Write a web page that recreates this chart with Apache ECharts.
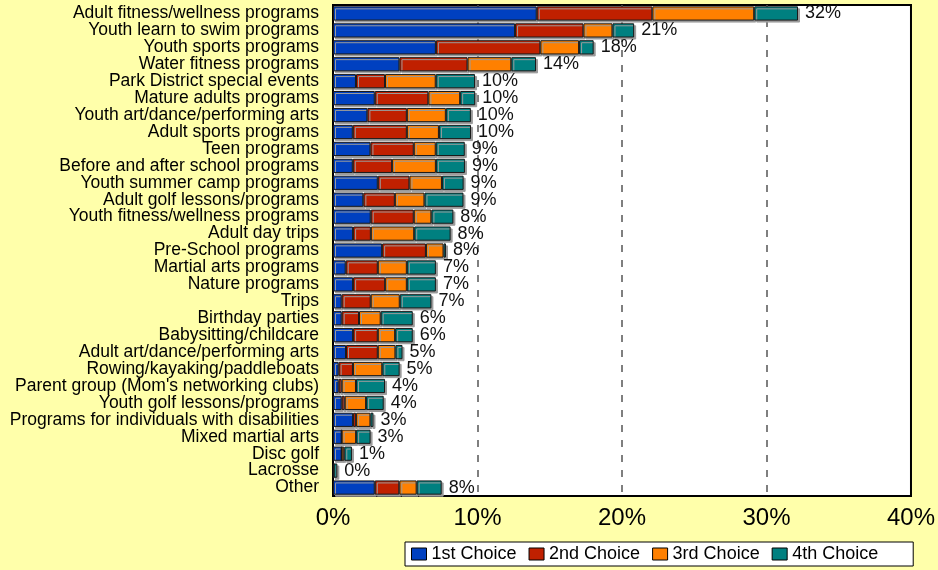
<!DOCTYPE html>
<html>
<head>
<meta charset="utf-8">
<script src="https://cdn.jsdelivr.net/npm/echarts@6/dist/echarts.min.js"></script>
<style>
html,body{margin:0;padding:0;background:#FFFFAA;}
#chart{width:938px;height:570px;}
</style>
</head>
<body>
<div id="chart"></div>
<script>
const categories = [
  "Adult fitness/wellness programs",
  "Youth learn to swim programs",
  "Youth sports programs",
  "Water fitness programs",
  "Park District special events",
  "Mature adults programs",
  "Youth art/dance/performing arts",
  "Adult sports programs",
  "Teen programs",
  "Before and after school programs",
  "Youth summer camp programs",
  "Adult golf lessons/programs",
  "Youth fitness/wellness programs",
  "Adult day trips",
  "Pre-School programs",
  "Martial arts programs",
  "Nature programs",
  "Trips",
  "Birthday parties",
  "Babysitting/childcare",
  "Adult art/dance/performing arts",
  "Rowing/kayaking/paddleboats",
  "Parent group (Mom's networking clubs)",
  "Youth golf lessons/programs",
  "Programs for individuals with disabilities",
  "Mixed martial arts",
  "Disc golf",
  "Lacrosse",
  "Other"
];
const firstChoice  = [14.1, 12.6, 7.12, 4.6, 1.59, 2.89, 2.38, 1.37, 2.59, 1.37, 3.1, 2.1, 2.61, 1.39, 3.4, 0.88, 1.39, 0.6, 0.6, 1.39, 0.9, 0.39, 0.39, 0.6, 1.39, 0.6, 0.6, 0.05, 2.89];
const secondChoice = [8.0, 4.73, 7.23, 4.71, 2.01, 3.71, 2.73, 3.74, 3.0, 2.72, 2.19, 2.18, 2.98, 1.23, 3.03, 2.22, 2.22, 2.01, 1.2, 1.71, 2.2, 0.99, 0.21, 0.21, 0.21, 0, 0, 0, 1.7];
const thirdChoice  = [7.05, 2.01, 2.68, 3.03, 3.51, 2.2, 2.7, 2.22, 1.52, 3.03, 2.25, 2.05, 1.22, 3.0, 1.22, 2.01, 1.5, 2.01, 1.5, 1.2, 1.22, 2.03, 0.99, 1.48, 0.99, 1.0, 0.18, 0, 1.2];
const fourthChoice = [3.03, 1.5, 1.01, 1.71, 2.72, 1.04, 1.73, 2.22, 2.01, 2.01, 1.5, 2.7, 1.52, 2.52, 0.17, 2.01, 2.01, 2.19, 2.22, 1.22, 0.49, 1.2, 2.01, 1.22, 0.21, 1.0, 0.53, 0.25, 1.73];
const seriesNames = ["1st Choice", "2nd Choice", "3rd Choice", "4th Choice"];
const xTicks = [0, 10, 20, 30, 40];

const colors = ["#0040C0", "#C02000", "#FF8000", "#008080"];
const FONT = "'Liberation Sans', Arial, sans-serif";

const totals = categories.map((c, i) => firstChoice[i] + secondChoice[i] + thirdChoice[i] + fourthChoice[i]);
const allData = [firstChoice, secondChoice, thirdChoice, fourthChoice];

const chart = echarts.init(document.getElementById('chart'), null, {renderer: 'canvas'});

const series = allData.map((arr, k) => ({
  name: seriesNames[k],
  type: 'bar',
  stack: 'total',
  data: arr,
  barCategoryGap: '16%',
  itemStyle: {
    color: colors[k],
    borderColor: '#1a1a1a',
    borderWidth: 1,
    shadowColor: '#9a9a9a',
    shadowOffsetX: 2,
    shadowOffsetY: 2,
    shadowBlur: 0
  },
  emphasis: {disabled: true},
  label: k === 3 ? {
    show: true,
    position: 'right',
    distance: 7,
    fontSize: 18,
    fontFamily: FONT,
    color: '#111',
    formatter: p => Math.round(totals[p.dataIndex]) + '%'
  } : {show: false}
}));

chart.setOption({
  backgroundColor: '#FFFFAA',
  animation: false,
  textStyle: {fontFamily: FONT},
  grid: {
    left: 333, right: 26, top: 5, bottom: 74,
    show: true,
    backgroundColor: '#ffffff',
    borderColor: '#000000',
    borderWidth: 2,
    containLabel: false
  },
  legend: {
    data: seriesNames,
    left: 405,
    top: 542,
    orient: 'horizontal',
    backgroundColor: '#ffffff',
    borderColor: '#000000',
    borderWidth: 1,
    padding: [3, 35, 3, 6],
    itemWidth: 15,
    itemHeight: 12,
    itemGap: 12,
    icon: 'rect',
    itemStyle: {borderColor: '#000', borderWidth: 1, shadowBlur: 0, shadowOffsetX: 0, shadowOffsetY: 0, shadowColor: 'transparent'},
    textStyle: {fontSize: 18, fontFamily: FONT, color: '#000'}
  },
  xAxis: {
    type: 'value',
    min: xTicks[0],
    max: xTicks[xTicks.length - 1],
    interval: 10,
    axisLine: {show: false},
    axisTick: {show: false},
    axisLabel: {
      fontSize: 24,
      fontFamily: FONT,
      color: '#000',
      margin: 10,
      formatter: v => v + '%'
    },
    splitLine: {
      show: true,
      lineStyle: {
        color: ['transparent', '#555555', '#555555', '#555555', 'transparent'],
        type: [7, 8],
        width: 1.5
      }
    }
  },
  yAxis: {
    type: 'category',
    data: categories,
    inverse: true,
    axisLine: {show: false},
    axisTick: {show: false},
    splitLine: {show: false},
    axisLabel: {
      fontSize: 17.5,
      fontFamily: FONT,
      color: '#000',
      margin: 14,
      interval: 0
    }
  },
  series: series
});
</script>
</body>
</html>
